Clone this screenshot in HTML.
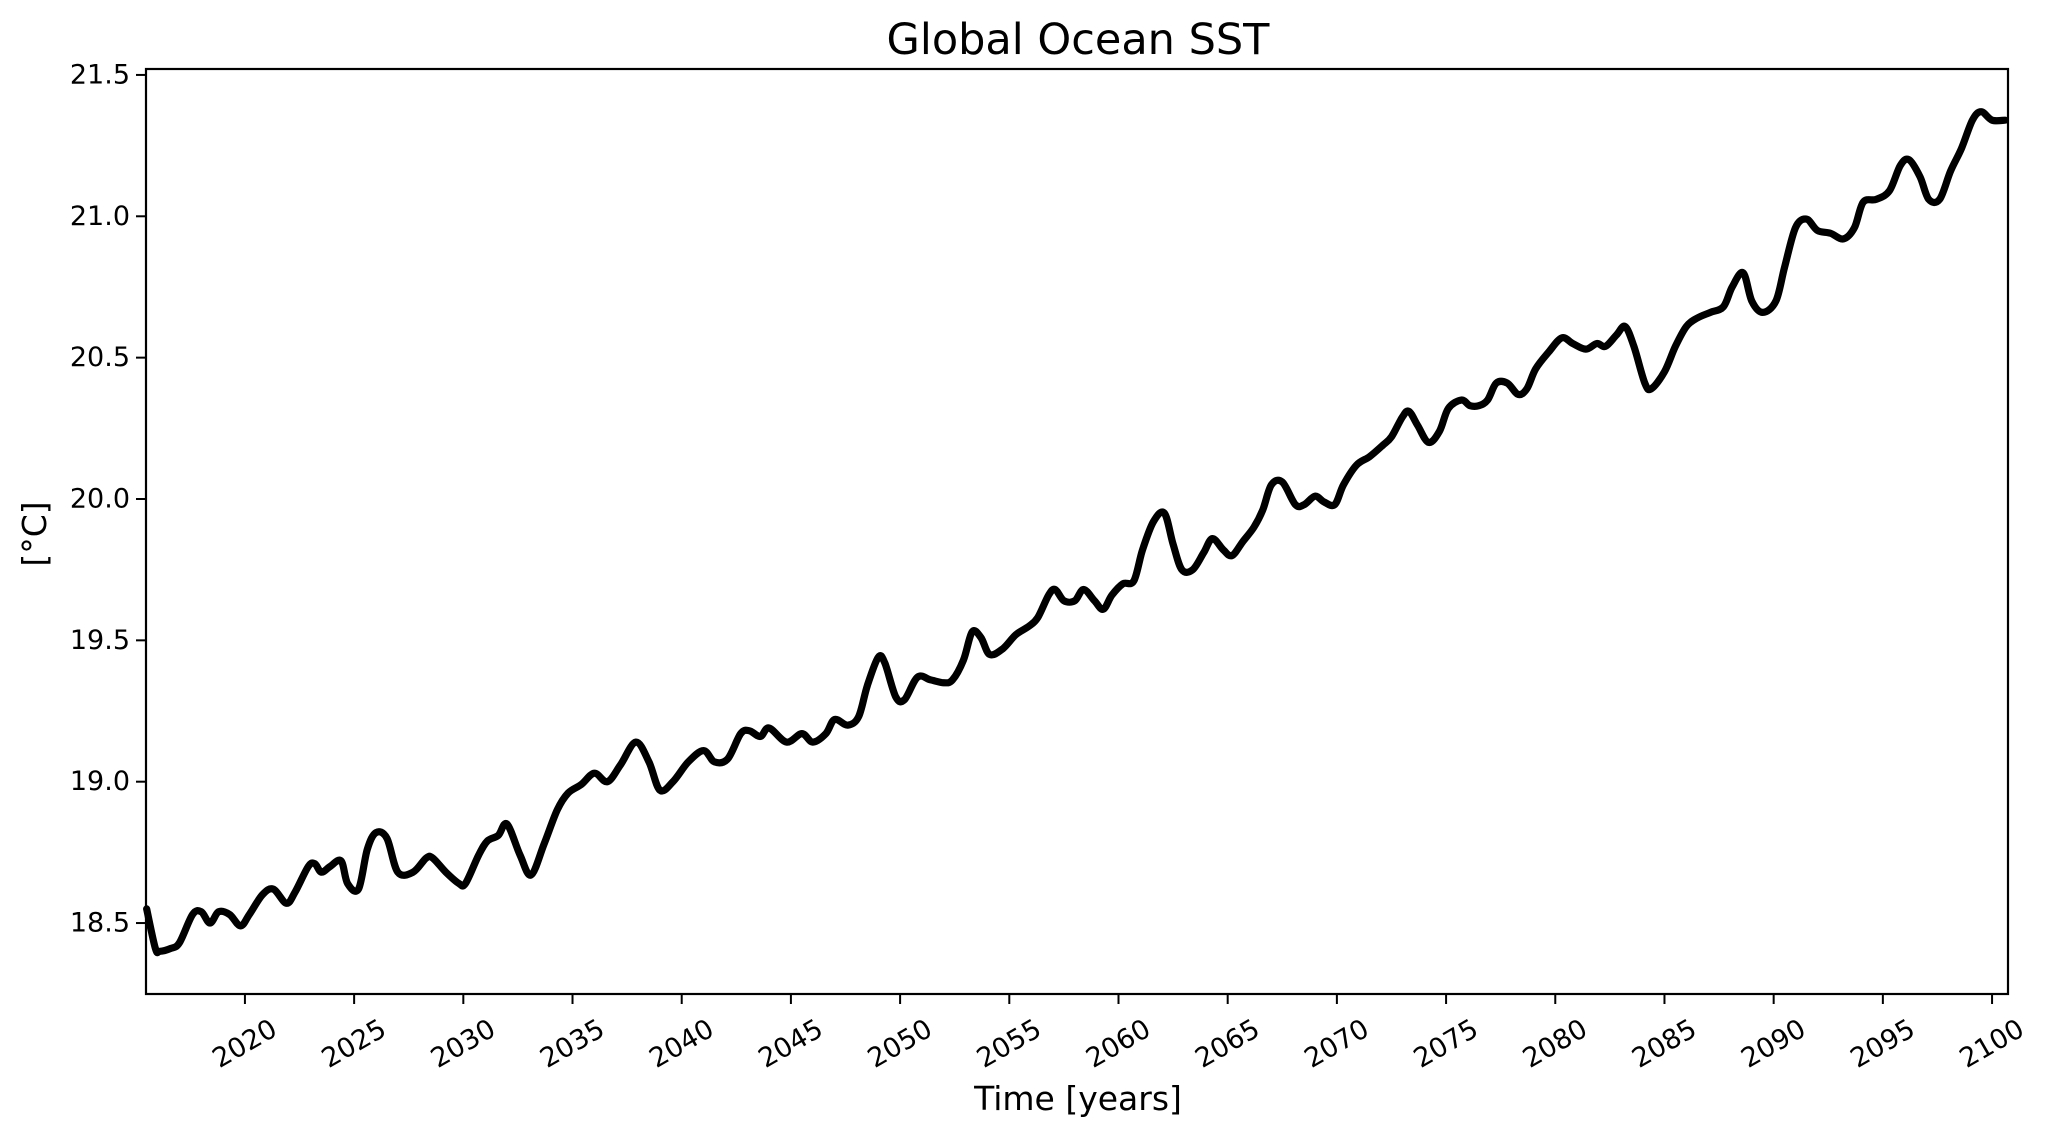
<!DOCTYPE html>
<html><head><meta charset="utf-8"><style>
html,body{margin:0;padding:0;background:#fff}
svg{display:block}
text{font-family:"DejaVu Sans","Liberation Sans",sans-serif;fill:#000}
</style></head><body>
<svg id="chart" width="2052" height="1137" viewBox="0 0 2052 1137" xmlns="http://www.w3.org/2000/svg">
<rect width="2052" height="1137" fill="#fff"/>
<text x="1078" y="54" font-size="43" text-anchor="middle">Global Ocean SST</text>
<text x="1078" y="1110" font-size="33" text-anchor="middle">Time [years]</text>
<text x="46" y="534" font-size="33" text-anchor="middle" transform="rotate(-90 46 534)">[°C]</text>
<g id="ticks"></g>
<path id="line" fill="none" stroke="#000" stroke-width="7.2" stroke-linejoin="round" stroke-linecap="round"/>
<rect x="146" y="69" width="1862" height="925" fill="none" stroke="#000" stroke-width="2.2"/>
</svg>
<script>
const years=[2015.5,2015.9,2016.1,2016.6,2017.0,2017.6,2018.0,2018.4,2018.8,2019.3,2019.8,2020.2,2020.8,2021.3,2021.9,2022.3,2022.9,2023.2,2023.5,2023.9,2024.4,2024.7,2025.2,2025.6,2026.0,2026.5,2027.0,2027.7,2028.3,2028.6,2029.2,2029.8,2030.1,2030.7,2031.1,2031.6,2032.0,2032.6,2033.1,2033.7,2034.3,2034.8,2035.4,2036.0,2036.6,2037.2,2037.9,2038.5,2039.0,2039.6,2040.3,2041.0,2041.5,2042.1,2042.7,2043.1,2043.6,2044.0,2044.8,2045.5,2046.0,2046.6,2047.0,2047.6,2048.1,2048.5,2049.0,2049.3,2049.8,2050.2,2050.8,2051.4,2052.0,2052.4,2052.9,2053.3,2053.7,2054.1,2054.7,2055.3,2055.9,2056.3,2056.8,2057.1,2057.5,2058.0,2058.4,2058.9,2059.3,2059.7,2060.2,2060.7,2061.1,2061.6,2062.1,2062.5,2062.9,2063.4,2063.9,2064.3,2064.8,2065.2,2065.7,2066.2,2066.6,2067.0,2067.5,2068.1,2068.5,2069.0,2069.4,2069.9,2070.3,2070.9,2071.5,2072.1,2072.5,2073.0,2073.3,2073.7,2074.2,2074.7,2075.1,2075.7,2076.1,2076.5,2076.9,2077.3,2077.8,2078.3,2078.7,2079.1,2079.7,2080.3,2080.8,2081.4,2081.9,2082.3,2082.8,2083.2,2083.6,2084.1,2084.4,2085.0,2085.5,2086.0,2086.5,2087.1,2087.7,2088.1,2088.6,2089.0,2089.5,2090.1,2090.5,2091.0,2091.5,2092.0,2092.6,2093.2,2093.7,2094.1,2094.7,2095.3,2095.8,2096.2,2096.7,2097.1,2097.6,2098.1,2098.6,2099.1,2099.5,2100.0,2100.6];
const sst=[18.55,18.41,18.40,18.41,18.43,18.53,18.54,18.50,18.54,18.53,18.49,18.53,18.60,18.62,18.57,18.61,18.70,18.71,18.68,18.70,18.72,18.64,18.62,18.76,18.82,18.80,18.68,18.68,18.73,18.73,18.68,18.64,18.64,18.74,18.79,18.81,18.85,18.74,18.67,18.78,18.90,18.96,18.99,19.03,19.00,19.06,19.14,19.07,18.97,19.00,19.07,19.11,19.07,19.08,19.17,19.18,19.16,19.19,19.14,19.17,19.14,19.17,19.22,19.20,19.23,19.34,19.44,19.42,19.30,19.29,19.37,19.36,19.35,19.36,19.43,19.53,19.51,19.45,19.47,19.52,19.55,19.58,19.66,19.68,19.64,19.64,19.68,19.64,19.61,19.66,19.70,19.71,19.82,19.92,19.95,19.84,19.75,19.75,19.81,19.86,19.82,19.80,19.85,19.90,19.96,20.05,20.06,19.98,19.98,20.01,19.99,19.98,20.05,20.12,20.15,20.19,20.22,20.29,20.31,20.26,20.20,20.24,20.32,20.35,20.33,20.33,20.35,20.41,20.41,20.37,20.39,20.46,20.52,20.57,20.55,20.53,20.55,20.54,20.58,20.61,20.54,20.41,20.39,20.45,20.54,20.61,20.64,20.66,20.68,20.75,20.80,20.70,20.66,20.70,20.82,20.96,20.99,20.95,20.94,20.92,20.96,21.05,21.06,21.09,21.18,21.20,21.14,21.06,21.06,21.16,21.24,21.34,21.37,21.34,21.34];
const xTickLabels=["2020","2025","2030","2035","2040","2045","2050","2055","2060","2065","2070","2075","2080","2085","2090","2095","2100"];
const yTickLabels=["18.5","19.0","19.5","20.0","20.5","21.0","21.5"];
const L=146,R=2008,T=69,B=994,X0=2015.47,X1=2100.73,Y0=18.249,Y1=21.521;
const sx=v=>L+(v-X0)/(X1-X0)*(R-L);
const sy=v=>B-(v-Y0)/(Y1-Y0)*(B-T);
const NS="http://www.w3.org/2000/svg";
const g=document.getElementById('ticks');
function mk(tag,attrs){const e=document.createElementNS(NS,tag);for(const k in attrs)e.setAttribute(k,attrs[k]);g.appendChild(e);return e;}
xTickLabels.forEach(t=>{const x=sx(+t);
 const ln=mk('line',{x1:x,x2:x,y1:B,y2:B+10,stroke:'#000','stroke-width':2});
 
 
 const tx=mk('text',{x:x,y:1044,'font-size':27,'text-anchor':'middle','dominant-baseline':'central',transform:`rotate(-30 ${x} 1044)`});
 tx.textContent=t;
 
 
});
yTickLabels.forEach(t=>{const y=sy(+t);
 const ln=mk('line',{x1:L-10,x2:L,y1:y,y2:y,stroke:'#000','stroke-width':2});
 
 
 const tx=mk('text',{x:L-16,y:y,'font-size':27,'text-anchor':'end','dominant-baseline':'central'});
 tx.textContent=t;
 
 
});
const pts=years.map((y,i)=>[sx(y),sy(sst[i])]);
let d=`M${pts[0][0]},${pts[0][1]}`;
for(let i=0;i<pts.length-1;i++){const p0=pts[Math.max(0,i-1)],p1=pts[i],p2=pts[i+1],p3=pts[Math.min(pts.length-1,i+2)];
 d+=` C${p1[0]+(p2[0]-p0[0])/6},${p1[1]+(p2[1]-p0[1])/6} ${p2[0]-(p3[0]-p1[0])/6},${p2[1]-(p3[1]-p1[1])/6} ${p2[0]},${p2[1]}`;}
document.getElementById('line').setAttribute('d',d);
</script>
</body></html>
